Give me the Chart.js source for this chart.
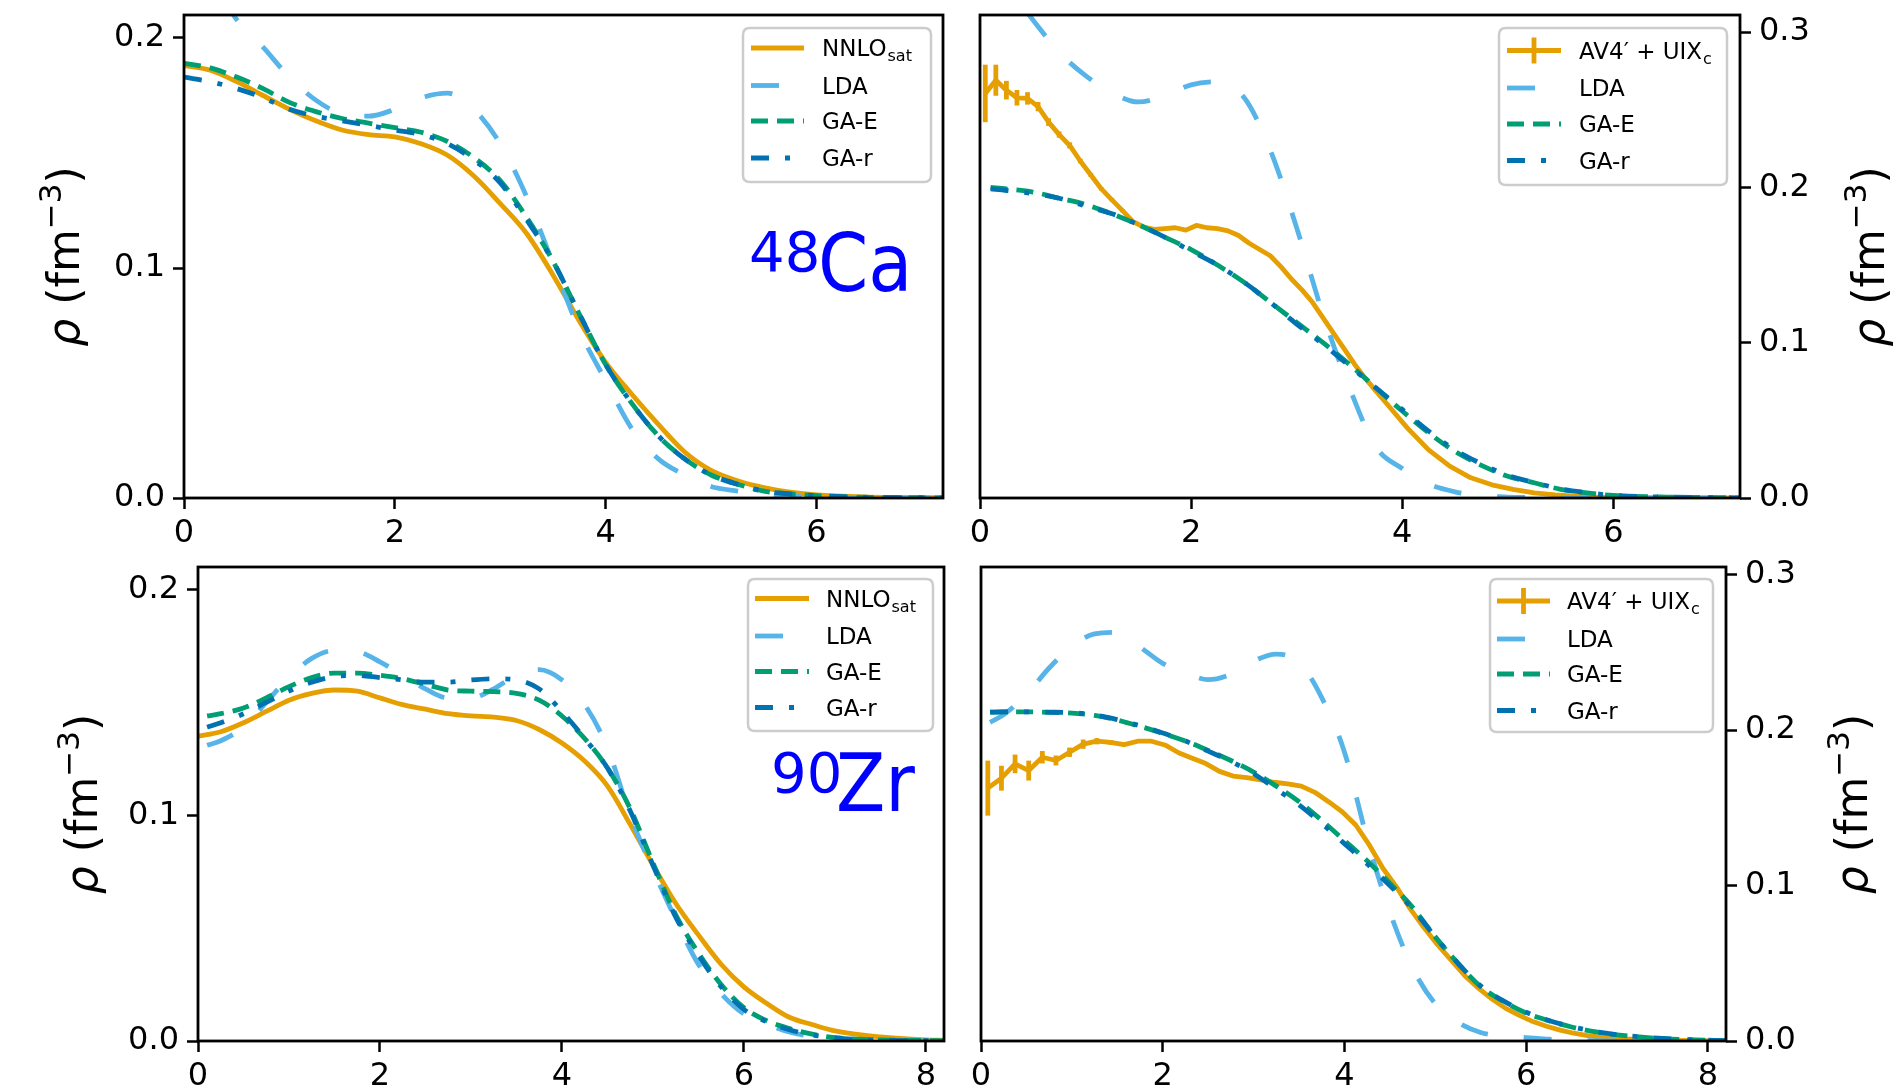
<!DOCTYPE html>
<html>
<head>
<meta charset="utf-8">
<title>Nuclear densities 48Ca / 90Zr</title>
<script src="https://cdn.jsdelivr.net/npm/chart.js@4.4.1/dist/chart.umd.min.js"></script>
<style>
  html, body { margin:0; padding:0; background:#ffffff; }
  #stage { position:relative; width:1896px; height:1089px; overflow:hidden; background:#ffffff; }
  #stage canvas { position:absolute; left:0; top:0; }
</style>
</head>
<body>
<div id="stage">
  <canvas id="pTL" width="1896" height="1089"></canvas>
  <canvas id="pTR" width="1896" height="1089"></canvas>
  <canvas id="pBL" width="1896" height="1089"></canvas>
  <canvas id="pBR" width="1896" height="1089"></canvas>
</div>
<script>
// ---------------- DATA ----------------
const xTicksTop    = [0, 2, 4, 6];
const xTicksBottom = [0, 2, 4, 6, 8];
const yTicksLeft   = [0, 0.1, 0.2];
const yTicksRight  = [0, 0.1, 0.2, 0.3];

// 48Ca, left panel (NNLOsat vs LDA / GA)
const ca48GridA = [0,0.25,0.5,0.75,1,1.25,1.5,1.75,2,2.25,2.5,2.75,3,3.25,3.5,3.75,4,4.25,4.5,4.75,5,5.25,5.5,5.75,6,6.5,7,7.2];
const ca48Nnlo  = [0.188,0.186,0.181,0.175,0.169,0.164,0.160,0.158,0.157,0.154,0.149,0.140,0.128,0.115,0.097,0.077,0.059,0.045,0.032,0.020,0.012,0.0075,0.0045,0.0025,0.0013,0.0004,0.0001,0.0001];
const ca48LdaL  = [0.240,0.226,0.208,0.196,0.183,0.173,0.167,0.166,0.169,0.174,0.176,0.169,0.154,0.131,0.102,0.073,0.051,0.030,0.017,0.010,0.005,0.003,0.0015,0.0008,0.0003,0.0001,0,0];
const ca48GaEL  = [0.189,0.187,0.183,0.178,0.172,0.168,0.165,0.163,0.161,0.159,0.155,0.148,0.138,0.122,0.103,0.080,0.058,0.041,0.027,0.017,0.010,0.006,0.003,0.0018,0.001,0.0003,0.0001,0];
const ca48GarL  = [0.183,0.181,0.178,0.174,0.169,0.166,0.164,0.162,0.160,0.158,0.154,0.147,0.137,0.121,0.103,0.080,0.058,0.041,0.027,0.017,0.010,0.006,0.003,0.0018,0.001,0.0003,0.0001,0];

// 48Ca, right panel (AV4'+UIXc vs LDA / GA)
const ca48GridB = [0.1,0.25,0.5,0.75,1,1.25,1.5,1.75,2,2.25,2.5,2.75,3,3.25,3.5,3.75,4,4.25,4.5,4.75,5,5.25,5.5,5.75,6,6.5,7,7.2];
const ca48LdaR  = [0.345,0.330,0.308,0.287,0.272,0.261,0.255,0.259,0.266,0.268,0.258,0.224,0.174,0.118,0.071,0.033,0.019,0.009,0.004,0.0015,0.0006,0.0003,0.0001,0,0,0,0,0];
const ca48GaER  = [0.200,0.199,0.197,0.193,0.189,0.183,0.176,0.168,0.160,0.150,0.139,0.126,0.113,0.100,0.086,0.071,0.056,0.042,0.030,0.021,0.014,0.0098,0.0056,0.0033,0.0016,0.0006,0.0002,0.0001];
const ca48GarR  = [0.199,0.198,0.196,0.193,0.188,0.183,0.176,0.168,0.159,0.150,0.139,0.126,0.112,0.099,0.085,0.071,0.057,0.043,0.031,0.022,0.0145,0.0100,0.0058,0.0034,0.0017,0.0006,0.0002,0.0001];
const ca48AfdmcR   = [0.05,0.15,0.25,0.35,0.45,0.55,0.65,0.75,0.85,0.95,1.05,1.15,1.25,1.35,1.45,1.55,1.65,1.75,1.85,1.95,2.05,2.15,2.25,2.35,2.45,2.55,2.65,2.75,2.85,2.95,3.05,3.15,3.25,3.35,3.45,3.55,3.65,3.75,3.85,3.95,4.05,4.25,4.45,4.65,4.85,5.05,5.25,5.45,5.75,6.05,6.5,7.15];
const ca48Afdmc    = [0.2605,0.269,0.2626,0.2577,0.2573,0.252,0.242,0.234,0.227,0.217,0.208,0.199,0.192,0.185,0.178,0.1745,0.173,0.1735,0.174,0.1725,0.1755,0.174,0.1735,0.172,0.169,0.164,0.160,0.156,0.149,0.141,0.134,0.126,0.116,0.106,0.096,0.086,0.077,0.069,0.061,0.053,0.045,0.031,0.0205,0.013,0.0085,0.0055,0.0033,0.002,0.0007,0.0003,0.0001,0];
const ca48AfdmcErr = [0.0185,0.010,0.006,0.005,0.004,0.003,0.0025,0.002,0.002,0.0015,0.0012,0.001,0.001,0.001,0,0,0,0,0,0,0,0,0,0,0,0,0,0,0,0,0,0,0,0,0,0,0,0,0,0,0,0,0,0,0,0,0,0,0,0,0,0];

// 90Zr, left panel
const zr90GridA = [0,0.25,0.5,0.75,1,1.25,1.5,1.75,2,2.25,2.5,2.75,3,3.25,3.5,3.75,4,4.25,4.5,4.75,5,5.25,5.5,5.75,6,6.25,6.5,6.75,7,7.5,8,8.2];
const zr90Nnlo  = [0.135,0.137,0.141,0.146,0.151,0.154,0.1555,0.155,0.152,0.149,0.147,0.145,0.144,0.1435,0.142,0.138,0.132,0.124,0.113,0.096,0.078,0.061,0.047,0.034,0.024,0.0167,0.0105,0.0073,0.0045,0.0018,0.0005,0.0003];
const zr90GridB = [0.1,0.25,0.5,0.75,1,1.25,1.5,1.75,2,2.25,2.5,2.75,3,3.25,3.5,3.75,4,4.25,4.5,4.75,5,5.25,5.5,5.75,6,6.25,6.5,6.75,7,7.5,8,8.2];
const zr90LdaL  = [0.131,0.133,0.139,0.150,0.161,0.1695,0.173,0.1725,0.168,0.162,0.156,0.152,0.152,0.156,0.162,0.1645,0.160,0.149,0.130,0.100,0.076,0.054,0.034,0.021,0.012,0.0075,0.004,0.002,0.001,0.0003,0,0];
const zr90GaEL  = [0.144,0.145,0.1475,0.152,0.157,0.161,0.163,0.163,0.162,0.1605,0.158,0.1555,0.155,0.1548,0.154,0.151,0.144,0.134,0.121,0.103,0.079,0.056,0.039,0.025,0.0148,0.009,0.0055,0.003,0.0015,0.0005,0.0002,0.0001];
const zr90GarL  = [0.139,0.141,0.145,0.150,0.155,0.159,0.1615,0.162,0.161,0.160,0.159,0.159,0.160,0.1605,0.160,0.156,0.146,0.134,0.121,0.102,0.078,0.055,0.038,0.024,0.014,0.0085,0.005,0.0027,0.0014,0.0004,0.0001,0.0001];

// 90Zr, right panel
const zr90LdaR  = [0.205,0.210,0.223,0.240,0.254,0.262,0.263,0.2535,0.243,0.237,0.2325,0.236,0.2445,0.249,0.2437,0.221,0.186,0.130,0.083,0.047,0.024,0.012,0.0055,0.003,0.0022,0.0012,0.0005,0.0002,0.0001,0,0,0];
const zr90GaER  = [0.2116,0.2118,0.2118,0.2115,0.211,0.2095,0.2065,0.2025,0.198,0.193,0.187,0.1805,0.173,0.164,0.154,0.142,0.129,0.116,0.1015,0.086,0.067,0.050,0.035,0.0255,0.018,0.013,0.009,0.006,0.004,0.0015,0.0005,0.0002];
const zr90GarR  = [0.2116,0.2118,0.2118,0.2116,0.2112,0.2098,0.2068,0.2028,0.1982,0.193,0.1865,0.180,0.172,0.162,0.152,0.140,0.127,0.114,0.100,0.085,0.067,0.050,0.0355,0.0258,0.0185,0.0132,0.0092,0.0062,0.0041,0.0016,0.0005,0.0002];
const zr90AfdmcR   = [0.075,0.225,0.375,0.525,0.675,0.825,0.975,1.125,1.275,1.425,1.575,1.725,1.875,2.025,2.175,2.325,2.475,2.625,2.775,2.925,3.075,3.225,3.375,3.525,3.675,3.825,3.975,4.125,4.275,4.425,4.575,4.725,4.875,5.025,5.175,5.325,5.475,5.625,5.775,5.925,6.075,6.225,6.375,6.525,6.675,6.825,6.975,7.275,7.575,7.875,8.175];
const zr90Afdmc    = [0.1627,0.1691,0.1783,0.174,0.1826,0.1805,0.1858,0.191,0.1929,0.1922,0.1907,0.1929,0.1929,0.1905,0.1855,0.182,0.1785,0.1735,0.1705,0.1695,0.168,0.1665,0.1655,0.164,0.160,0.154,0.1475,0.139,0.126,0.111,0.099,0.085,0.073,0.062,0.052,0.042,0.034,0.027,0.021,0.0165,0.0125,0.0095,0.007,0.005,0.0035,0.0025,0.0017,0.0008,0.0004,0.0002,0.0001];
const zr90AfdmcErr = [0.0177,0.008,0.006,0.0064,0.004,0.0032,0.003,0.003,0.002,0.0015,0.001,0.001,0.001,0,0,0,0,0,0,0,0,0,0,0,0,0,0,0,0,0,0,0,0,0,0,0,0,0,0,0,0,0,0,0,0,0,0,0,0,0,0];

const seriesNames = { nnlo: 'NNLO', nnloSub: 'sat', afdmc: 'AV4\u2032 + UIX', afdmcSub: 'c', lda: 'LDA', gae: 'GA-E', gar: 'GA-r' };

// ---------------- STYLE ----------------
const FONT = '"DejaVu Sans", "Liberation Sans", sans-serif';
const FONT_COND = '"DejaVu Sans Condensed", "DejaVu Sans", sans-serif';
const COL = { orange: '#E69F00', lda: '#56B4E9', gae: '#009E73', gar: '#0072B2' };
const DASH = { solid: [], lda: [28, 36], gae: [17, 9], gar: [18, 16, 5, 16] };
const LW = 4.8;
const TICK_PX = 32, LABEL_PX = 44, LEGEND_PX = 23;

function pts(xs, ys) { return xs.map((x, i) => ({ x: x, y: ys[i] })); }
function lineDs(label, xs, ys, color, dash, order, smooth) {
  return {
    label: label, data: pts(xs, ys), borderColor: color, backgroundColor: color,
    borderWidth: LW, borderDash: dash, pointRadius: 0, pointHoverRadius: 0, fill: false,
    cubicInterpolationMode: smooth ? 'monotone' : 'default', tension: 0,
    borderJoinStyle: 'round', borderCapStyle: 'butt', clip: 0, order: order
  };
}

// ---------------- DECORATION PLUGIN ----------------
const DECO = {};

function roundRect(ctx, x, y, w, h, r) {
  ctx.beginPath();
  ctx.moveTo(x + r, y);
  ctx.lineTo(x + w - r, y); ctx.quadraticCurveTo(x + w, y, x + w, y + r);
  ctx.lineTo(x + w, y + h - r); ctx.quadraticCurveTo(x + w, y + h, x + w - r, y + h);
  ctx.lineTo(x + r, y + h); ctx.quadraticCurveTo(x, y + h, x, y + h - r);
  ctx.lineTo(x, y + r); ctx.quadraticCurveTo(x, y, x + r, y);
  ctx.closePath();
}

function drawLegend(ctx, lg) {
  ctx.save();
  roundRect(ctx, lg.x0, lg.y0, lg.x1 - lg.x0, lg.y1 - lg.y0, 7);
  ctx.fillStyle = 'rgba(255,255,255,0.8)';
  ctx.fill();
  ctx.strokeStyle = '#cccccc';
  ctx.lineWidth = 2.5;
  ctx.stroke();
  lg.items.forEach((it, i) => {
    const y = lg.rows[i];
    ctx.strokeStyle = it.color; ctx.lineWidth = LW; ctx.lineCap = 'butt';
    ctx.setLineDash(it.dash);
    ctx.beginPath(); ctx.moveTo(lg.sx0, y); ctx.lineTo(lg.sx1, y); ctx.stroke();
    ctx.setLineDash([]);
    if (it.err) {
      const mx = (lg.sx0 + lg.sx1) / 2;
      ctx.beginPath(); ctx.moveTo(mx, y - 13); ctx.lineTo(mx, y + 13); ctx.stroke();
    }
    ctx.fillStyle = '#000000';
    ctx.textAlign = 'left'; ctx.textBaseline = 'alphabetic';
    ctx.font = LEGEND_PX + 'px ' + FONT;
    const base = y + LEGEND_PX * 0.365;
    ctx.fillText(it.text, lg.tx, base);
    if (it.sub) {
      const w = ctx.measureText(it.text).width;
      ctx.font = Math.round(LEGEND_PX * 0.7) + 'px ' + FONT;
      ctx.fillText(it.sub, lg.tx + w + 1, base + LEGEND_PX * 0.22);
    }
  });
  ctx.restore();
}

function drawRho(ctx, cx, cy) {
  const s = LABEL_PX;
  const parts = [
    { t: '\u03C1', f: 'italic ' + s + 'px ' + FONT, dy: 0 },
    { t: ' (fm', f: s + 'px ' + FONT, dy: 0 },
    { t: '\u22123', f: Math.round(s * 0.7) + 'px ' + FONT, dy: -s * 0.40 },
    { t: ')', f: s + 'px ' + FONT, dy: 0 }
  ];
  ctx.save();
  let total = 0;
  parts.forEach(p => { ctx.font = p.f; p.w = ctx.measureText(p.t).width; total += p.w; });
  ctx.translate(cx, cy);
  ctx.rotate(-Math.PI / 2);
  ctx.fillStyle = '#000000';
  ctx.textAlign = 'left'; ctx.textBaseline = 'alphabetic';
  let x = -total / 2;
  const base = s * 0.315;
  parts.forEach(p => { ctx.font = p.f; ctx.fillText(p.t, x, base + p.dy); x += p.w; });
  ctx.restore();
}

function drawNucleus(ctx, n) {
  ctx.save();
  ctx.fillStyle = '#0000ff';
  ctx.textAlign = 'left'; ctx.textBaseline = 'alphabetic';
  ctx.font = n.supSize + 'px ' + FONT;
  ctx.fillText(n.sup, n.supX, n.supY);
  ctx.font = n.mainSize + 'px ' + FONT_COND;
  ctx.fillText(n.main, n.mainX, n.mainY);
  ctx.restore();
}

const decoPlugin = {
  id: 'deco',
  afterDatasetDraw(chart, args) {
    const ds = chart.data.datasets[args.index];
    if (!ds.errorValues) return;
    const ctx = chart.ctx, a = chart.chartArea, xs = chart.scales.x, ys = chart.scales.y;
    ctx.save();
    ctx.beginPath(); ctx.rect(a.left, a.top, a.right - a.left, a.bottom - a.top); ctx.clip();
    ctx.strokeStyle = ds.borderColor; ctx.lineWidth = LW; ctx.lineCap = 'butt';
    ds.data.forEach((p, i) => {
      const e = ds.errorValues[i];
      if (!e) return;
      const px = xs.getPixelForValue(p.x);
      ctx.beginPath();
      ctx.moveTo(px, ys.getPixelForValue(p.y - e));
      ctx.lineTo(px, ys.getPixelForValue(p.y + e));
      ctx.stroke();
    });
    ctx.restore();
  },
  afterDraw(chart) {
    const d = DECO[chart.canvas.id];
    if (!d) return;
    const ctx = chart.ctx, a = chart.chartArea;
    ctx.save();
    ctx.strokeStyle = '#000000'; ctx.lineWidth = 2.8;
    ctx.strokeRect(a.left, a.top, a.right - a.left, a.bottom - a.top);
    ctx.restore();
    drawLegend(ctx, d.legend);
    drawRho(ctx, d.ylabel[0], d.ylabel[1]);
    if (d.nucleus) drawNucleus(ctx, d.nucleus);
  }
};

// ---------------- CHART FACTORY ----------------
const CW = 1896, CH = 1089, Y_W = 120, X_H = 70;

function makeChart(id, p) {
  const right = p.yPos === 'right';
  const pad = {
    top: p.T,
    bottom: CH - p.B - X_H,
    left: right ? p.L : p.L - Y_W,
    right: right ? CW - p.R - Y_W : CW - p.R
  };
  const tickGrid = { display: true, drawOnChartArea: false, drawTicks: true, tickLength: 11, tickWidth: 2.5, tickColor: '#000000', color: '#000000' };
  DECO[id] = p.deco;
  return new Chart(document.getElementById(id), {
    type: 'line',
    data: { datasets: p.datasets },
    options: {
      responsive: false, animation: false, devicePixelRatio: 1, events: [],
      layout: { padding: pad },
      plugins: { legend: { display: false }, tooltip: { enabled: false } },
      scales: {
        x: {
          type: 'linear', position: 'bottom', min: 0, max: p.xMax, bounds: 'data',
          afterFit: s => { s.height = X_H; s.paddingLeft = 0; s.paddingRight = 0; s.paddingTop = 0; s.paddingBottom = 0; },
          afterBuildTicks: s => { s.ticks = p.xTicks.map(v => ({ value: v })); },
          grid: tickGrid, border: { display: false },
          ticks: { color: '#000000', font: { family: FONT, size: TICK_PX }, padding: 5, maxRotation: 0, autoSkip: false,
                   callback: v => String(v) }
        },
        y: {
          type: 'linear', position: p.yPos, min: 0, max: p.yMax, bounds: 'data',
          afterFit: s => { s.width = Y_W; s.paddingLeft = 0; s.paddingRight = 0; s.paddingTop = 0; s.paddingBottom = 0; },
          afterBuildTicks: s => { s.ticks = p.yTicks.map(v => ({ value: v })); },
          grid: tickGrid, border: { display: false },
          ticks: { color: '#000000', font: { family: FONT, size: TICK_PX }, padding: 8, autoSkip: false,
                   callback: v => Number(v).toFixed(1) }
        }
      }
    },
    plugins: [decoPlugin]
  });
}

function legendItems(first) {
  return [
    first,
    { color: COL.lda, dash: DASH.lda, text: seriesNames.lda },
    { color: COL.gae, dash: DASH.gae, text: seriesNames.gae },
    { color: COL.gar, dash: DASH.gar, text: seriesNames.gar }
  ];
}
const nnloItem  = { color: COL.orange, dash: DASH.solid, text: seriesNames.nnlo, sub: seriesNames.nnloSub };
const afdmcItem = { color: COL.orange, dash: DASH.solid, text: seriesNames.afdmc, sub: seriesNames.afdmcSub, err: true };

function afdmcDs(xs, ys, errs) {
  const d = lineDs(seriesNames.afdmc, xs, ys, COL.orange, DASH.solid, 4, false);
  d.errorValues = errs;
  return d;
}

// Top-left: 48Ca, NNLOsat
makeChart('pTL', {
  L: 184, T: 15, R: 943, B: 498, yPos: 'left', xMax: 7.2, yMax: 0.21,
  xTicks: xTicksTop, yTicks: yTicksLeft,
  datasets: [
    lineDs('NNLOsat', ca48GridA, ca48Nnlo, COL.orange, DASH.solid, 4, true),
    lineDs('LDA', ca48GridA, ca48LdaL, COL.lda, DASH.lda, 3, true),
    lineDs('GA-E', ca48GridA, ca48GaEL, COL.gae, DASH.gae, 2, true),
    lineDs('GA-r', ca48GridA, ca48GarL, COL.gar, DASH.gar, 1, true)
  ],
  deco: {
    legend: { x0: 743, y0: 28, x1: 931, y1: 182, rows: [48, 85.5, 121, 158], sx0: 751, sx1: 804, tx: 822, items: legendItems(nnloItem) },
    ylabel: [65, 256.5],
    nucleus: { sup: '48', supSize: 56, supX: 749, supY: 271, main: 'Ca', mainSize: 80, mainX: 818, mainY: 291 }
  }
});

// Top-right: 48Ca, AV4'+UIXc
makeChart('pTR', {
  L: 980, T: 15, R: 1740, B: 498, yPos: 'right', xMax: 7.2, yMax: 0.311,
  xTicks: xTicksTop, yTicks: yTicksRight,
  datasets: [
    afdmcDs(ca48AfdmcR, ca48Afdmc, ca48AfdmcErr),
    lineDs('LDA', ca48GridB, ca48LdaR, COL.lda, DASH.lda, 3, true),
    lineDs('GA-E', ca48GridB, ca48GaER, COL.gae, DASH.gae, 2, true),
    lineDs('GA-r', ca48GridB, ca48GarR, COL.gar, DASH.gar, 1, true)
  ],
  deco: {
    legend: { x0: 1499, y0: 28, x1: 1727, y1: 185, rows: [50.5, 88, 124, 160.5], sx0: 1507, sx1: 1561, tx: 1579, items: legendItems(afdmcItem) },
    ylabel: [1870, 256.5]
  }
});

// Bottom-left: 90Zr, NNLOsat
makeChart('pBL', {
  L: 198, T: 567, R: 944, B: 1041, yPos: 'left', xMax: 8.2, yMax: 0.21,
  xTicks: xTicksBottom, yTicks: yTicksLeft,
  datasets: [
    lineDs('NNLOsat', zr90GridA, zr90Nnlo, COL.orange, DASH.solid, 4, true),
    lineDs('LDA', zr90GridB, zr90LdaL, COL.lda, DASH.lda, 3, true),
    lineDs('GA-E', zr90GridB, zr90GaEL, COL.gae, DASH.gae, 2, true),
    lineDs('GA-r', zr90GridB, zr90GarL, COL.gar, DASH.gar, 1, true)
  ],
  deco: {
    legend: { x0: 748, y0: 579, x1: 933, y1: 731, rows: [598.5, 636, 671.5, 707.5], sx0: 755, sx1: 809, tx: 826, items: legendItems(nnloItem) },
    ylabel: [83, 804],
    nucleus: { sup: '90', supSize: 56, supX: 771, supY: 792, main: 'Zr', mainSize: 80, mainX: 836, mainY: 811 }
  }
});

// Bottom-right: 90Zr, AV4'+UIXc
makeChart('pBR', {
  L: 981, T: 567, R: 1726, B: 1041, yPos: 'right', xMax: 8.2, yMax: 0.305,
  xTicks: xTicksBottom, yTicks: yTicksRight,
  datasets: [
    afdmcDs(zr90AfdmcR, zr90Afdmc, zr90AfdmcErr),
    lineDs('LDA', zr90GridB, zr90LdaR, COL.lda, DASH.lda, 3, true),
    lineDs('GA-E', zr90GridB, zr90GaER, COL.gae, DASH.gae, 2, true),
    lineDs('GA-r', zr90GridB, zr90GarR, COL.gar, DASH.gar, 1, true)
  ],
  deco: {
    legend: { x0: 1490, y0: 579, x1: 1713, y1: 732, rows: [601, 639, 674, 710.5], sx0: 1497, sx1: 1550, tx: 1567, items: legendItems(afdmcItem) },
    ylabel: [1853, 804]
  }
});
</script>
</body>
</html>
